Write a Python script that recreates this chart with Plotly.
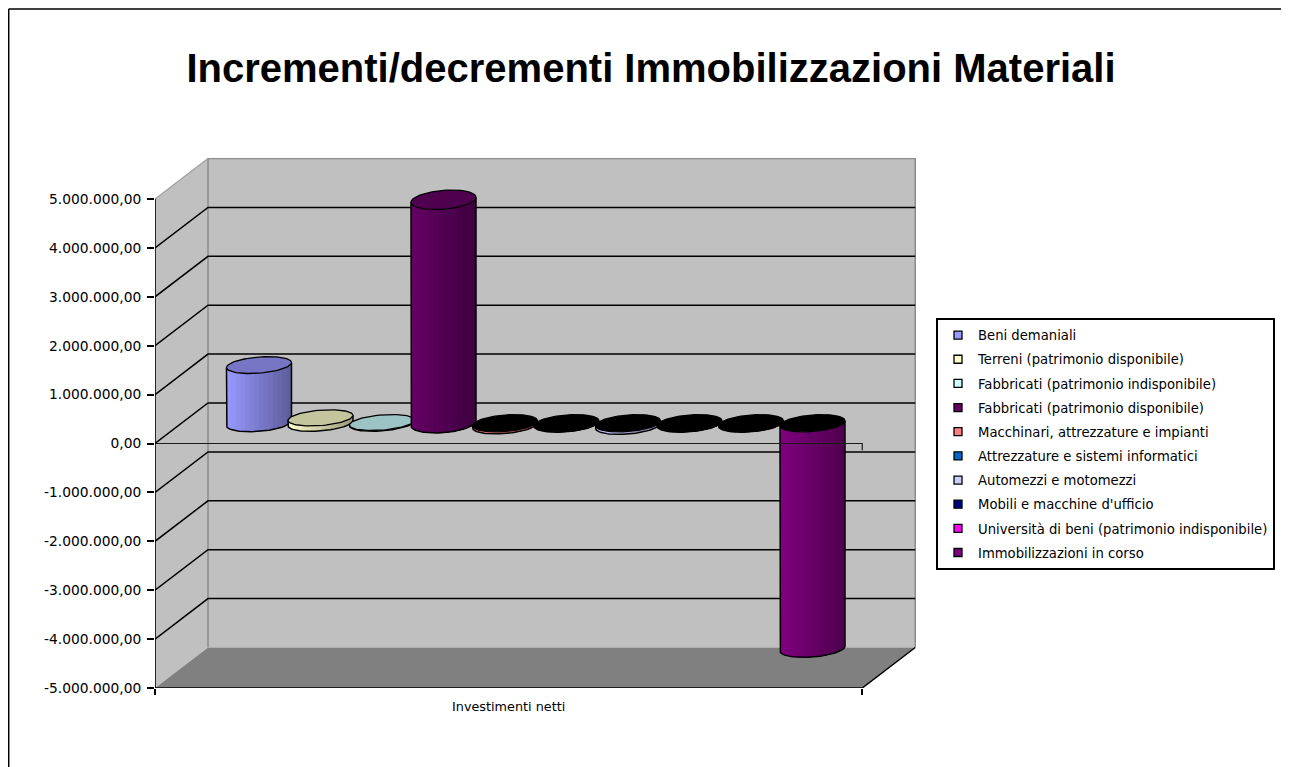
import numpy as np
import plotly.graph_objects as go

# ---- data ----
TITLE = "Incrementi/decrementi Immobilizzazioni Materiali"
CATEGORY = "Investimenti netti"
SERIES = ["Beni demaniali", "Terreni (patrimonio disponibile)",
          "Fabbricati (patrimonio indisponibile)", "Fabbricati (patrimonio disponibile)",
          "Macchinari, attrezzature e impianti", "Attrezzature e sistemi informatici",
          "Automezzi e motomezzi", "Mobili e macchine d'ufficio",
          "Università di beni (patrimonio indisponibile)", "Immobilizzazioni in corso"]
VALUES = [1190000, 110000, 15000, 4570000, -40000, -5000, -50000, -5000, -5000, -4610000]
COLORS = ["#9999FF", "#FFFFCC", "#CCFFFF", "#660066", "#FF8080",
          "#0066CC", "#CCCCFF", "#000080", "#FF00FF", "#800080"]
TICK_VALUES = [5e6, 4e6, 3e6, 2e6, 1e6, 0, -1e6, -2e6, -3e6, -4e6, -5e6]
TICK_LABELS = ["5.000.000,00", "4.000.000,00", "3.000.000,00", "2.000.000,00", "1.000.000,00", "0,00",
               "-1.000.000,00", "-2.000.000,00", "-3.000.000,00", "-4.000.000,00", "-5.000.000,00"]

# ---- layout of the oblique 3-D box ----
PAGE = 8                   # page margin round the figure
W, H = 1289 - PAGE, 767 - PAGE
LEFT, RIGHT, TOP, BOTTOM = 155, 917, 158, 688   # plot area in page px
PX_U = 61.5                # px per category step
PX_V = 48.9 / 1e6          # px per unit of value
X0, X1 = -1.26, 10.24      # front floor edge in category units
DEPTH_U = 53 / PX_U        # full depth as x shift
DEPTH_V = 40.5 / PX_V      # full depth as value shift
VMIN, VMAX = -5e6, 5e6
RX, TILT = 32.5, 2.5       # cylinder radius and ellipse tilt, px


def proj(u, v, d=0.0):
    return u + d * DEPTH_U, v + d * DEPTH_V


def shade(hex_color, f):
    r, g, b = (int(hex_color[i:i + 2], 16) for i in (1, 3, 5))
    return f"rgb({r * f:.0f},{g * f:.0f},{b * f:.0f})"


def px_x(p):
    return (p - LEFT) / (RIGHT - LEFT)


def px_y(p):
    return (BOTTOM - p) / (BOTTOM - TOP)


fig = go.Figure()


def poly(pts, fill, line=None, width=0):
    xs, ys = zip(*pts)
    fig.add_trace(go.Scatter(x=list(xs), y=list(ys), mode="lines" if line else "none",
                             fill="toself", fillcolor=fill,
                             line=dict(color=line or fill, width=width),
                             hoverinfo="skip", showlegend=False, cliponaxis=False))


def path(pts, color="#000000", width=1.5):
    xs, ys = zip(*pts)
    fig.add_trace(go.Scatter(x=list(xs), y=list(ys), mode="lines",
                             line=dict(color=color, width=width),
                             hoverinfo="skip", showlegend=False, cliponaxis=False))


# legend entries
for name, color in zip(SERIES, COLORS):
    fig.add_trace(go.Scatter(x=[None], y=[None], mode="markers", name=name, legendgroup=name,
                             marker=dict(symbol="square", size=8, color=color,
                                         line=dict(color="#000000", width=1.3)),
                             hoverinfo="skip"))

# walls and floor
poly([proj(X0, VMIN, 0), proj(X0, VMAX, 0), proj(X0, VMAX, 1), proj(X0, VMIN, 1)], "#C0C0C0")
poly([proj(X0, VMIN, 1), proj(X1, VMIN, 1), proj(X1, VMAX, 1), proj(X0, VMAX, 1)], "#C0C0C0")
poly([proj(X0, VMIN, 0), proj(X1, VMIN, 0), proj(X1, VMIN, 1), proj(X0, VMIN, 1)], "#808080")
path([proj(X0, VMIN, 1), proj(X0, VMAX, 1), proj(X1, VMAX, 1), proj(X1, VMIN, 1)], "#8C8C8C", 1.5)
path([proj(X0, VMAX, 0), proj(X0, VMAX, 1)], "#A0A0A0", 1.2)

# gridlines
for v in TICK_VALUES[1:-1]:
    path([proj(X0, v, 0), proj(X0, v, 1), proj(X1, v, 1)], "#000000", 1.5)

# floor edges and value axis
path([proj(X0, VMIN, 0), proj(X1, VMIN, 0), proj(X1, VMIN, 1)], "#000000", 1.5)
path([proj(X0, VMIN, 0), proj(X0, VMAX, 0)], "#000000", 1.6)


def ellipse_v(t, ry):
    return (ry * np.sin(t) + TILT * np.cos(t)) / PX_V


# cylinders: overlapping vertical bands give the shaded side without seams
for i, (value, color) in enumerate(zip(VALUES, COLORS)):
    cu, base = proj(float(i), 0.0, 0.5)
    end = base + value
    hi, lo = max(base, end), min(base, end)
    ry = 7.6 + 0.4 * value / 1e6 if value > 0 else 8.3
    rx_u = RX / PX_U
    edges = np.linspace(-1, 1, 15)
    for k in range(14):
        cs = np.linspace(edges[k], 1.0, 41)
        ts = 2 * np.pi - np.arccos(cs)
        us = cu + rx_u * cs
        lower = lo + ellipse_v(ts, ry)
        upper = hi + ellipse_v(ts, ry)
        mid = (edges[k] + edges[k + 1]) / 2
        f = 1.0 - 0.4 * (mid + 1) / 2
        poly(list(zip(us, lower)) + list(zip(us[::-1], upper[::-1])), shade(color, f))
    ts = np.linspace(np.pi, 2 * np.pi, 41)
    us = cu + rx_u * np.cos(ts)
    path([(cu - rx_u, hi + ellipse_v(np.pi, ry))] + list(zip(us, lo + ellipse_v(ts, ry)))
         + [(cu + rx_u, hi + ellipse_v(0.0, ry))])
    tc = np.linspace(0, 2 * np.pi, 81)
    cap_color = shade(color, 0.77) if value > 0 else "#000000"
    poly(list(zip(cu + rx_u * np.cos(tc), hi + ellipse_v(tc, ry))), cap_color, "#000000", 1.3)

# zero line on the front plane with its end tick
path([proj(X0, 0, 0), proj(X1, 0, 0), proj(X1, -140000, 0)], "#1A1A1A", 1.2)

fig.update_layout(
    width=W, height=H, autosize=False,
    margin=dict(l=LEFT - PAGE, r=W - (RIGHT - PAGE), t=TOP - PAGE, b=H - (BOTTOM - PAGE), pad=0),
    paper_bgcolor="#FFFFFF", plot_bgcolor="#FFFFFF",
    font=dict(family="DejaVu Sans", color="#000000"),
    title=dict(text=TITLE, x=(651 - PAGE) / W, xanchor="center", y=1 - (68 - PAGE) / H, yanchor="middle",
               font=dict(family="Liberation Sans", size=40, color="#000000", weight="bold")),
    xaxis=dict(range=[X0, X0 + (RIGHT - LEFT) / PX_U], showgrid=False, zeroline=False, showline=False,
               tickmode="array", tickvals=[(X0 + X1) / 2], ticktext=[CATEGORY], ticks="",
               ticklabelstandoff=9, tickfont=dict(family="DejaVu Sans", size=12.8),
               minor=dict(tickmode="array", tickvals=[X0, X1], ticks="outside", ticklen=6,
                          tickwidth=1.5, tickcolor="#000000", showgrid=False)),
    yaxis=dict(range=[VMIN, VMIN + (BOTTOM - TOP) / PX_V], showgrid=False, zeroline=False, showline=False,
               tickmode="array", tickvals=TICK_VALUES, ticktext=TICK_LABELS, ticks="outside",
               ticklen=7, tickwidth=1.5, tickcolor="#000000", ticklabelstandoff=3,
               tickfont=dict(family="DejaVu Sans", size=13.8)),
    showlegend=True,
    legend=dict(x=px_x(936), xanchor="left", y=px_y(318), yanchor="top",
                bgcolor="#FFFFFF", bordercolor="#000000", borderwidth=2,
                tracegroupgap=4, itemclick=False, itemdoubleclick=False,
                font=dict(family="DejaVu Sans", size=13.2, color="#000000")),
    shapes=[dict(type="line", xref="paper", yref="paper", x0=px_x(8.7), x1=px_x(8.7), y0=px_y(767), y1=px_y(9),
                 line=dict(color="#000000", width=1.5)),
            dict(type="line", xref="paper", yref="paper", x0=px_x(8.7), x1=px_x(1289), y0=px_y(9), y1=px_y(9),
                 line=dict(color="#000000", width=1.5))],
)

fig.write_html("out.html")
